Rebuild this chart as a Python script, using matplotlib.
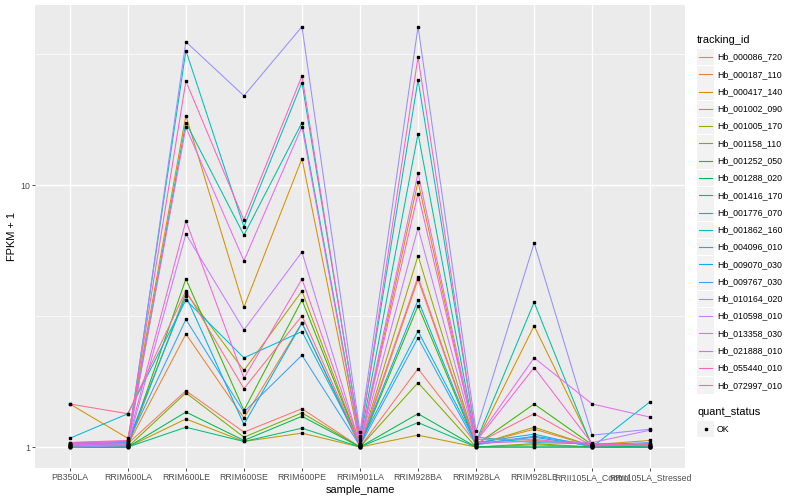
import numpy as np
import matplotlib
matplotlib.use('Agg')
from matplotlib import pyplot as plt
from matplotlib.patches import Rectangle
from matplotlib.lines import Line2D

plt.rcParams['font.family'] = ['Liberation Sans', 'DejaVu Sans']

samples = ['PB350LA', 'RRIM600LA', 'RRIM600LE', 'RRIM600SE', 'RRIM600PE', 'RRIM901LA',
           'RRIM928BA', 'RRIM928LA', 'RRIM928LE', 'RRII105LA_Control', 'RRII105LA_Stressed']

tracking_ids = ['Hb_000086_720', 'Hb_000187_110', 'Hb_000417_140', 'Hb_001002_090', 'Hb_001005_170',
                'Hb_001158_110', 'Hb_001252_050', 'Hb_001288_020', 'Hb_001416_170', 'Hb_001776_070',
                'Hb_001862_160', 'Hb_004096_010', 'Hb_009070_030', 'Hb_009767_030', 'Hb_010164_020',
                'Hb_010598_010', 'Hb_013358_030', 'Hb_021888_010', 'Hb_055440_010', 'Hb_072997_010']

# ggplot hue palette, 20 levels
colors = ['#F8766D', '#EA8331', '#D89000', '#C09B00', '#A3A500', '#7CAE00', '#39B600', '#00BB4E',
          '#00BF7D', '#00C1A3', '#00BFC4', '#00BAE0', '#00B0F6', '#35A2FF', '#9590FF', '#C77CFF',
          '#E76BF3', '#FA62DB', '#FF62BC', '#FF6C91']

# FPKM + 1, one row per tracking_id, one column per sample
fpkm1 = [
    [1.02, 1.03, 1.64, 1.14, 1.40, 1.00, 1.99, 1.03, 1.06, 1.02, 1.01],
    [1.01, 1.02, 2.70, 1.29, 2.98, 1.00, 4.37, 1.02, 1.17, 1.01, 1.00],
    [1.46, 1.08, 18.4, 3.42, 12.6, 1.02, 10.3, 1.04, 2.90, 1.02, 1.06],
    [1.00, 1.00, 1.28, 1.05, 1.13, 1.00, 1.11, 1.00, 1.02, 1.00, 1.00],
    [1.01, 1.01, 3.88, 1.96, 3.94, 1.01, 5.37, 1.02, 1.19, 1.01, 1.02],
    [1.00, 1.00, 1.61, 1.09, 1.35, 1.00, 1.76, 1.00, 1.03, 1.00, 1.00],
    [1.01, 1.01, 4.38, 1.38, 3.64, 1.01, 3.46, 1.02, 1.46, 1.02, 1.00],
    [1.00, 1.00, 1.36, 1.06, 1.31, 1.00, 1.34, 1.00, 1.00, 1.00, 1.00],
    [1.00, 1.00, 1.19, 1.05, 1.18, 1.00, 1.24, 1.00, 1.00, 1.00, 1.00],
    [1.02, 1.03, 17.3, 6.44, 17.3, 1.06, 15.7, 1.05, 3.57, 1.00, 1.00],
    [1.03, 1.04, 32.6, 6.93, 24.6, 1.10, 25.2, 1.09, 1.04, 1.03, 1.02],
    [1.08, 1.34, 3.64, 2.19, 2.76, 1.03, 2.77, 1.04, 1.12, 1.00, 1.49],
    [1.04, 1.05, 3.77, 1.22, 2.97, 1.02, 3.64, 1.03, 1.09, 1.01, 1.03],
    [1.03, 1.04, 3.07, 1.36, 2.24, 1.01, 2.61, 1.02, 1.10, 1.02, 1.04],
    [1.00, 1.01, 35.2, 21.9, 40.2, 1.14, 40.2, 1.15, 6.00, 1.11, 1.17],
    [1.01, 1.02, 6.50, 2.80, 5.55, 1.02, 6.87, 1.04, 1.05, 1.04, 1.16],
    [1.02, 1.03, 16.6, 5.14, 16.7, 1.04, 11.1, 1.06, 2.19, 1.46, 1.30],
    [1.03, 1.05, 7.30, 1.83, 4.38, 1.03, 9.27, 1.05, 2.01, 1.03, 1.01],
    [1.04, 1.06, 24.9, 7.35, 26.1, 1.08, 30.8, 1.07, 1.07, 1.02, 1.02],
    [1.46, 1.34, 3.95, 1.67, 3.17, 1.02, 4.47, 1.03, 1.34, 1.01, 1.02],
]

W, H = 800, 500
fig = plt.figure(figsize=(8, 5), dpi=100)
ax = fig.add_axes([35 / W, 1 - 468 / H, 650 / W, 463 / H])
ax.set_facecolor('#EBEBEB')

x = np.arange(len(samples))
for vals, c in zip(fpkm1, colors):
    ax.plot(x, vals, color=c, lw=0.75, zorder=3)
for vals in fpkm1:
    ax.plot(x, vals, ls='none', marker='s', ms=2.1, color='black', zorder=4)

ax.set_yscale('log')
ax.set_ylim(10 ** -0.08, 10 ** 1.687)
ax.set_xlim(-0.6, len(samples) - 0.4)

# grid like theme_grey
for v in [10 ** 0.5, 10 ** 1.5]:
    ax.axhline(v, color='white', lw=0.5, zorder=1)
for v in [1, 10]:
    ax.axhline(v, color='white', lw=1.0, zorder=1)
for xi in x:
    ax.axvline(xi, color='white', lw=1.0, zorder=1)

ax.set_yticks([1, 10])
ax.set_yticklabels(['1', '10'])
ax.yaxis.set_minor_locator(matplotlib.ticker.NullLocator())
ax.set_xticks(x)
ax.set_xticklabels(samples)
ax.tick_params(axis='both', length=2, width=0.6, color='#333333', labelsize=6.3,
               labelcolor='#4D4D4D', pad=1.5)
for s in ax.spines.values():
    s.set_visible(False)

ax.set_xlabel('sample_name', fontsize=7.9, labelpad=2)
ax.set_ylabel('FPKM + 1', fontsize=7.9, labelpad=2)

# legends drawn by hand, ggplot style
def fx(px):
    return px / W


def fy(py):
    return 1 - py / H


fig.text(fx(697), fy(40), 'tracking_id', fontsize=7.9, va='center', ha='left')
for i, (tid, c) in enumerate(zip(tracking_ids, colors)):
    cy = 57 + i * 17.28
    fig.patches.append(Rectangle((fx(697), fy(cy + 8.3)), 17 / W, 16.6 / H, transform=fig.transFigure,
                                 facecolor='#F2F2F2', edgecolor='none'))
    fig.lines.append(Line2D([fx(699), fx(712)], [fy(cy), fy(cy)], transform=fig.transFigure,
                            color=c, lw=0.8))
    fig.text(fx(717), fy(cy), tid, fontsize=6.3, va='center', ha='left')

fig.text(fx(697), fy(412), 'quant_status', fontsize=7.9, va='center', ha='left')
fig.patches.append(Rectangle((fx(697), fy(437.3)), 17 / W, 16.6 / H, transform=fig.transFigure,
                             facecolor='#F2F2F2', edgecolor='none'))
fig.lines.append(Line2D([fx(705.5)], [fy(429)], transform=fig.transFigure, marker='s', ms=2.1,
                        color='black', ls='none'))
fig.text(fx(717), fy(429), 'OK', fontsize=6.3, va='center', ha='left')

fig.savefig('out.png', dpi=100)
